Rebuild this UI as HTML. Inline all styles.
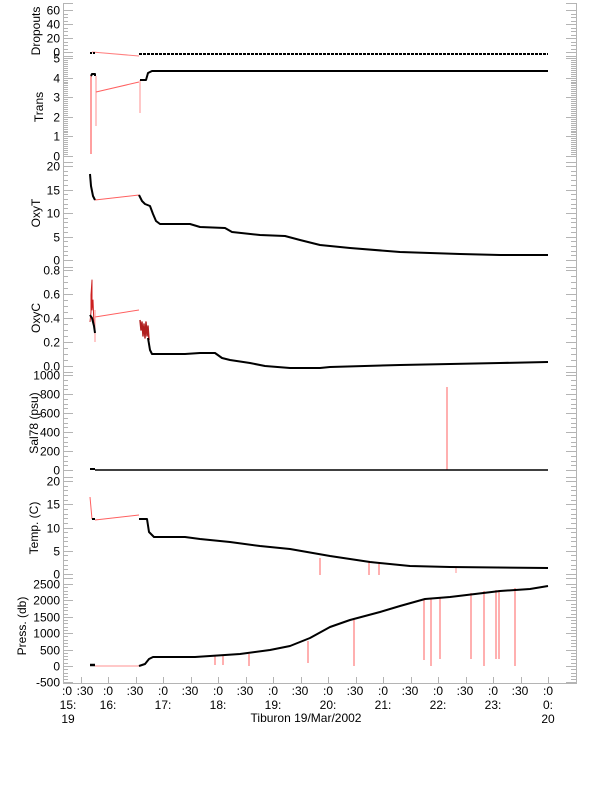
<!DOCTYPE html>
<html><head><meta charset="utf-8"><style>
html,body{margin:0;padding:0;background:#fff;}
svg{display:block;font-family:"Liberation Sans",sans-serif;}
</style></head><body>
<svg id="s" width="612" height="785" viewBox="0 0 612 785" xmlns="http://www.w3.org/2000/svg">
<rect width="612" height="785" fill="#fff"/>
<g id="ax" stroke="#b4b4b4" stroke-width="1" fill="none"></g>
<g id="lab" font-size="12" fill="#000" text-anchor="end"></g>
<g fill="none" stroke-linejoin="round">
<!-- Dropouts -->
<polyline stroke="#ff8080" points="92,52 139,56"/>
<polyline stroke="#000" stroke-width="2" stroke-dasharray="2,1" points="90,53 96,53"/>
<polyline stroke="#000" stroke-width="2" stroke-dasharray="3,1" points="139,54 548,54"/>
<!-- Trans -->
<polyline stroke="#ff4040" points="91,75 91,154"/>
<polyline stroke="#ff9090" points="96,76 96,126"/>
<polyline stroke="#ff6060" points="96,92 139,82"/>
<polyline stroke="#ff9090" points="140,80 140,113"/>
<polyline stroke="#000" stroke-width="2" points="91,76 92,74 95,74 95,76"/>
<polyline stroke="#000" stroke-width="2" points="140,80 146,80 148,73 152,71 548,71"/>
<!-- OxyT -->
<polyline stroke="#ff6060" points="95,200 139,195"/>
<polyline stroke="#000" stroke-width="2" points="90,174 91,186 93,196 95,200"/>
<polyline stroke="#000" stroke-width="2" points="139,195 142,201 145,204 150,206 153,214 156,221 160,224 190,224 200,227 225,228 232,232 260,235 285,236 300,240 320,245 350,248 400,252 460,254 500,255 548,255"/>
<!-- OxyC -->
<polyline stroke="#ff6060" points="95,317 139,310"/>
<polyline stroke="#ff9090" points="95,310 95,342"/>
<polyline stroke="#cc2020" points="90,322 91,312 91,295 92,280 92,310 93,300 94,326 95,330"/>
<polyline stroke="#000" stroke-width="2" points="90,315 92,318 94,326 95,333"/>
<polyline stroke="#b02020" stroke-width="1.5" points="140,320 141,330 142,322 143,336 144,324 145,338 146,322 147,336 148,326 149,340"/>
<polyline stroke="#000" stroke-width="2" points="148,338 150,350 152,354 185,354 200,353 215,353 222,358 230,360 250,363 265,366 290,368 320,368 330,367 400,365 450,364 500,363 548,362"/>
<!-- Sal -->
<polyline stroke="#ff6060" points="447,470 447,387"/>
<polyline stroke="#000" stroke-width="2" points="90,469 95,469"/>
<polyline stroke="#000" stroke-width="1.5" points="95,470 548,470"/>
<!-- Temp -->
<polyline stroke="#ff6060" points="95,520 139,515"/>
<polyline stroke="#ff6060" points="90,497 92,519"/>
<polyline stroke="#000" stroke-width="2" points="92,519 95,519"/>
<line stroke="#ff6060" x1="320" y1="558" x2="320" y2="575"/>
<line stroke="#ff6060" x1="369" y1="562" x2="369" y2="575"/>
<line stroke="#ff6060" x1="379" y1="563" x2="379" y2="575"/>
<line stroke="#ff9090" x1="456" y1="567" x2="456" y2="573"/>
<polyline stroke="#000" stroke-width="2" points="139,519 147,519 149,532 154,537 185,537 200,539 230,542 260,546 290,549 330,556 370,562 410,566 450,567 548,568"/>
<!-- Press -->
<polyline stroke="#ff9090" points="95,666 139,666"/>
<polyline stroke="#000" stroke-width="2.5" points="90,665 95,665"/>
<g stroke="#ff6060">
<line x1="215" y1="655" x2="215" y2="665"/>
<line x1="223" y1="655" x2="223" y2="665"/>
<line x1="249" y1="654" x2="249" y2="666"/>
<line x1="308" y1="641" x2="308" y2="663"/>
<line x1="354" y1="620" x2="354" y2="666"/>
<line x1="424" y1="600" x2="424" y2="660"/>
<line x1="431" y1="598" x2="431" y2="666"/>
<line x1="440" y1="597" x2="440" y2="659"/>
<line x1="471" y1="593" x2="471" y2="659"/>
<line x1="484" y1="591" x2="484" y2="666"/>
<line x1="496" y1="590" x2="496" y2="659"/>
<line x1="499" y1="590" x2="499" y2="659"/>
<line x1="515" y1="588" x2="515" y2="666"/>
</g>
<polyline stroke="#000" stroke-width="2" points="139,666 145,664 149,659 153,657 195,657 240,654 270,650 290,646 300,642 310,638 330,627 350,620 380,612 400,606 425,599 450,597 475,594 500,591 530,589 548,586"/>
</g>
<g font-size="12" fill="#000">
<text transform="translate(40,31) rotate(-90)" text-anchor="middle">Dropouts</text>
<text transform="translate(43,107) rotate(-90)" text-anchor="middle">Trans</text>
<text transform="translate(40,213) rotate(-90)" text-anchor="middle">OxyT</text>
<text transform="translate(40,318) rotate(-90)" text-anchor="middle">OxyC</text>
<text transform="translate(38,423) rotate(-90)" text-anchor="middle">Sal78 (psu)</text>
<text transform="translate(38,528) rotate(-90)" text-anchor="middle">Temp. (C)</text>
<text transform="translate(26,626) rotate(-90)" text-anchor="middle">Press. (db)</text>
<text x="306" y="722" text-anchor="middle">Tiburon 19/Mar/2002</text>
</g>
<g id="xl" font-size="12" fill="#000" text-anchor="middle"></g>
</svg>
<script>
var ax=document.getElementById('ax'),lab=document.getElementById('lab'),xl=document.getElementById('xl');
var NS='http://www.w3.org/2000/svg';
function L(x1,y1,x2,y2){var e=document.createElementNS(NS,'line');e.setAttribute('x1',x1);e.setAttribute('y1',y1);e.setAttribute('x2',x2);e.setAttribute('y2',y2);ax.appendChild(e);}
function T(p,x,y,s){var e=document.createElementNS(NS,'text');e.setAttribute('x',x);e.setAttribute('y',y);e.textContent=s;p.appendChild(e);}
var XL=63,XR=576;
var P=[[10,52,0,60,20,5,0,3,56],[58,156,0,5,1,0.1,0,56,162],[166,260,0,20,5,1,0,162,267],[270,366,0,0.8,0.2,0.05,1,267,372],[375,470,0,1000,200,50,0,372,477],[481,574,0,20,5,1,0,477,578],[584,666,0,2500,500,100,0,578,684]];
P.forEach(function(p,i){
 var yt=p[0],yb=p[1],v0=p[2],v1=p[3];
 function Y(v){return yb-(v-v0)/(v1-v0)*(yb-yt);}
 var lo=v0,hi=v1;
 if(i==6){lo=-500;}
 var top=p[7],bot=p[8];
 L(XL+0.5,top,XL+0.5,bot);L(XR+0.5,top,XR+0.5,bot);
 L(XL,top+0.5,XL+10,top+0.5);L(XR-10,top+0.5,XR,top+0.5);
 for(var v=lo;v<=hi+1e-9;v+=p[5]){var y=Math.round(Y(v))+0.5;if(y<top||y>bot)continue;L(XL,y,XL+5,y);L(XR-5,y,XR,y);}
 for(var v=lo;v<=hi+1e-9;v+=p[4]){var y=Math.round(Y(v))+0.5;if(y<top||y>bot)continue;L(XL,y,XL+10,y);L(XR-10,y,XR,y);T(lab,60,y+4,v.toFixed(p[6]));}
});
L(XL,683.5,XR,683.5);
for(var h=0;h<=9;h+=0.5){var x=Math.round(53+55*h)+0.5;if(x<XL)continue;L(x,683,x,677);}
T(xl,67,695,':0');T(xl,85,695,':30');T(xl,68,709,'15:');T(xl,68,723,'19');
var hrs=['16:','17:','18:','19:','20:','21:','22:','23:','0:'];
for(var k=1;k<=9;k++){var x=53+55*k;T(xl,x,695,':0');T(xl,x,709,hrs[k-1]);if(k<9)T(xl,x+27,695,':30');}
T(xl,548,723,'20');
</script>
</body></html>
